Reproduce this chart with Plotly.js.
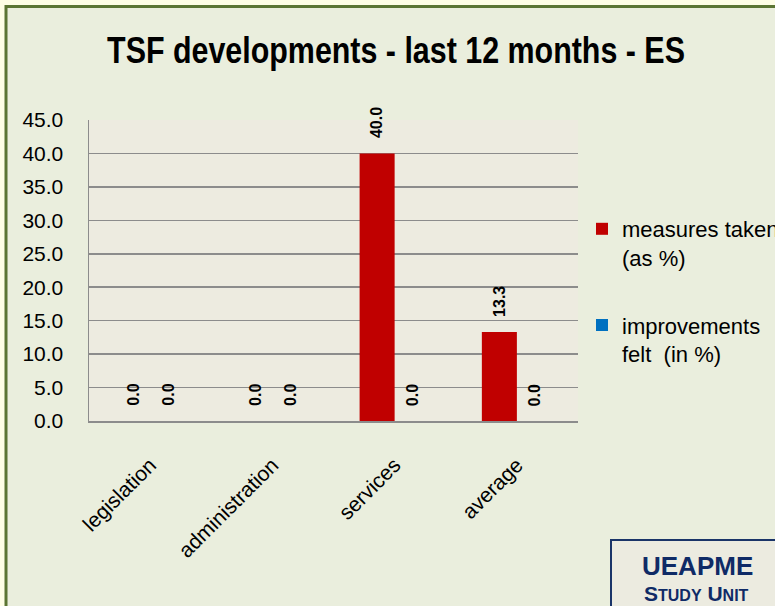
<!DOCTYPE html>
<html>
<head>
<meta charset="utf-8">
<script src="https://cdn.plot.ly/plotly-3.0.1.min.js"></script>
<style>
  html, body { margin: 0; padding: 0; background: #fefee6; }
  #chart { width: 775px; height: 606px; }
</style>
</head>
<body>
<div id="chart"></div>
<script>
// ---- data ----
const categories = ['legislation', 'administration', 'services', 'average'];
const measuresTaken = [0.0, 0.0, 40.0, 13.3];
const improvementsFelt = [0.0, 0.0, 0.0, 0.0];
const seriesNames = ['measures taken<br>(as %)', 'improvements<br>felt  (in %)'];
const seriesColors = ['#c00000', '#0070c0'];
const yTickVals = [0, 5, 10, 15, 20, 25, 30, 35, 40, 45];
const titleText = 'TSF developments - last 12 months - ES';

// ---- geometry helpers (pixel -> paper) ----
const W = 775, H = 606;
const M = { l: 89, r: 197, t: 120, b: 185, autoexpand: false };
const PW = W - M.l - M.r, PH = H - M.t - M.b;
const px = x => (x - M.l) / PW;
const py = y => (H - M.b - y) / PH;

const font = 'Liberation Sans, Arial, sans-serif';

const traces = [measuresTaken, improvementsFelt].map((vals, i) => ({
  type: 'bar',
  name: seriesNames[i],
  x: categories,
  y: vals,
  marker: { color: seriesColors[i] },
  legendgroup: 'g' + i,
  hoverinfo: 'skip'
}));

const annotations = [];
[measuresTaken, improvementsFelt].forEach((vals, i) => {
  vals.forEach((v, j) => {
    annotations.push({
      x: categories[j], y: v, xref: 'x', yref: 'y',
      text: v.toFixed(1), showarrow: false,
      textangle: -90, xanchor: 'center', yanchor: 'bottom',
      xshift: i === 0 ? -17.5 : 17.5, yshift: 13,
      font: { family: font, size: 16, color: '#000', weight: 'bold' }
    });
  });
});

annotations.push({
  xref: 'paper', yref: 'paper', x: px(697), y: py(566),
  text: 'UEAPME', showarrow: false, xanchor: 'center', yanchor: 'middle',
  font: { family: font, size: 26, color: '#0f2a66', weight: 'bold' }
});
annotations.push({
  xref: 'paper', yref: 'paper', x: px(696), y: py(593),
  text: 'S<span style="font-size:16px">TUDY</span> U<span style="font-size:16px">NIT</span>',
  showarrow: false, xanchor: 'center', yanchor: 'middle',
  font: { family: font, size: 21, color: '#0f2a66', weight: 'bold' }
});

const shapes = [
  { type: 'rect', xref: 'paper', yref: 'paper', layer: 'below',
    x0: px(6), x1: px(800), y0: py(6.5), y1: py(640),
    fillcolor: '#eaeedd', line: { color: '#5b7534', width: 3 } },
  { type: 'rect', xref: 'paper', yref: 'paper', layer: 'below',
    x0: 0, x1: 1, y0: 0, y1: 1,
    fillcolor: '#edebe0', line: { width: 0 } },
  { type: 'rect', xref: 'paper', yref: 'paper', layer: 'below',
    x0: px(611), x1: px(800), y0: py(540), y1: py(640),
    fillcolor: '#ecebe0', line: { color: '#1a3468', width: 2 } }
];

const layout = {
  width: W, height: H,
  margin: M,
  paper_bgcolor: '#fefee6',
  plot_bgcolor: 'rgba(0,0,0,0)',
  font: { family: font, color: '#000' },
  title: {
    text: titleText,
    font: { family: 'Liberation Sans, Arial, sans-serif', size: 37, color: '#000', weight: 'bold' },
    x: 396 / W, xanchor: 'center', xref: 'container',
    y: 1 - 50 / H, yanchor: 'middle', yref: 'container'
  },
  barmode: 'group',
  bargap: 0.427,
  bargroupgap: 0,
  xaxis: {
    type: 'category',
    tickangle: -45,
    tickfont: { family: font, size: 21, color: '#000' },
    showline: true, linecolor: '#8c8c8c', linewidth: 1.5,
    ticks: '', showgrid: false,
    ticklabelstandoff: 22
  },
  yaxis: {
    range: [0, 45],
    tickvals: yTickVals,
    tickformat: '.1f',
    tickfont: { family: font, size: 21, color: '#000' },
    showline: true, linecolor: '#8c8c8c', linewidth: 1.5,
    showgrid: true, gridcolor: '#8c8c8c', gridwidth: 1.5,
    zeroline: false, ticks: '',
    ticklabelstandoff: 20
  },
  legend: {
    x: px(582), xanchor: 'left',
    y: py(208), yanchor: 'top',
    bgcolor: 'rgba(0,0,0,0)',
    font: { family: font, size: 22, color: '#000' },
    traceorder: 'grouped',
    tracegroupgap: 36,
    valign: 'top'
  },
  showlegend: true,
  annotations: annotations,
  shapes: shapes
};

Plotly.newPlot('chart', traces, layout, { displayModeBar: false, staticPlot: true }).then(gd => {
  // The reference title uses a narrow (condensed) bold face: compress it horizontally.
  const t = gd.querySelector('.gtitle');
  if (t) {
    const cx = parseFloat(t.getAttribute('x')) || 396;
    t.setAttribute('transform', 'translate(' + cx + ',0) scale(0.822,1) translate(' + (-cx) + ',0)');
  }
});
</script>
</body>
</html>
